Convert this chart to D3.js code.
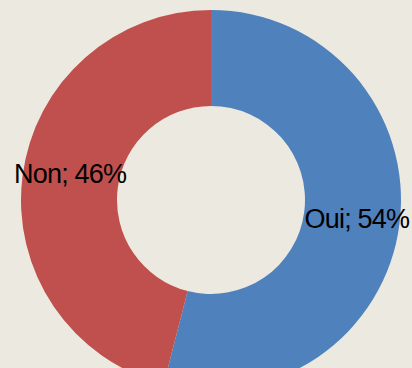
<!DOCTYPE html>
<html>
<head>
<meta charset="utf-8">
<script src="https://cdn.jsdelivr.net/npm/d3@7"></script>
<style>
  html, body { margin: 0; padding: 0; background: #ECE9E0; }
  svg { display: block; }
</style>
</head>
<body>
<svg id="chart" width="412" height="368"></svg>
<script>
// Answers and their shares (percent)
const categories = ["Oui", "Non"];
const values = [54, 46];
const colors = ["#4F81BD", "#C0504D"];

const svg = d3.select("#chart");
const cx = 211, cy = 200;
const outerR = 190, innerR = 94;

const pie = d3.pie().sort(null).value(d => d.value);
const arcs = pie(categories.map((c, i) => ({ name: c, value: values[i], color: colors[i] })));

const arc = d3.arc().innerRadius(innerR).outerRadius(outerR);
const labelArc = d3.arc().innerRadius(142).outerRadius(142);

// small nudges so each label sits inside its ring segment
const labelShift = [[5, 1], [0, -8]];

const g = svg.append("g").attr("transform", `translate(${cx},${cy})`);

g.selectAll("path")
  .data(arcs)
  .join("path")
  .attr("d", arc)
  .attr("fill", d => d.data.color);

g.selectAll("text")
  .data(arcs)
  .join("text")
  .attr("transform", d => {
    const [x, y] = labelArc.centroid(d);
    const [dx, dy] = labelShift[d.index];
    return `translate(${x + dx},${y + dy})`;
  })
  .attr("text-anchor", "middle")
  .attr("dominant-baseline", "central")
  .attr("font-family", "'Liberation Sans Narrow', 'Liberation Sans', sans-serif")
  .attr("font-size", 27)
  .attr("letter-spacing", -0.8)
  .attr("fill", "#000")
  .text(d => `${d.data.name}; ${d.data.value}%`);
</script>
</body>
</html>
